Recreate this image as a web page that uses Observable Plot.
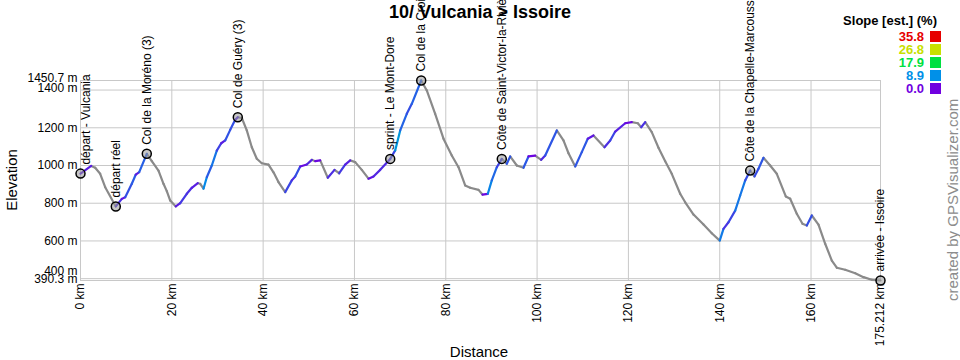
<!DOCTYPE html>
<html>
<head>
<meta charset="utf-8">
<script src="https://cdn.jsdelivr.net/npm/d3@7"></script>
<script src="https://cdn.jsdelivr.net/npm/@observablehq/plot@0.6"></script>
<style>
  body { margin: 0; background: #fff; font-family: "Liberation Sans", Arial, sans-serif; }
  #wrap { position: relative; width: 960px; height: 360px; overflow: hidden; background: #fff; }
  #chart { position: absolute; left: 0; top: 0; }
  .ov { position: absolute; white-space: nowrap; color: #000; }
  #title { left: 480px; top: 3px; transform: translateX(-50%); font-size: 18px; line-height: 18px; font-weight: bold; }
  #legTitle { right: 23px; top: 15px; font-size: 13px; line-height: 12px; font-weight: bold; }
  .legVal { right: 36px; font-size: 13px; line-height: 11px; font-weight: bold; text-align: right; }
  .legSw { position: absolute; left: 930px; width: 11px; height: 11px; }
  #credit { left: 945px; top: 301px; transform-origin: 0 0; transform: rotate(-90deg); font-size: 15px; line-height: 15px; color: #8c8c8c; }
  #ylab { left: 4px; top: 180px; transform-origin: 0 0; transform: rotate(-90deg) translateX(-50%); font-size: 15px; line-height: 15px; }
  #xlab { left: 479px; top: 344px; transform: translateX(-50%); font-size: 15px; line-height: 15px; }
</style>
</head>
<body>
<div id="wrap">
  <div id="chart"></div>
  <div id="title" class="ov"></div>
  <div id="legTitle" class="ov"></div>
  <div id="credit" class="ov"></div>
  <div id="ylab" class="ov"></div>
  <div id="xlab" class="ov"></div>
</div>
<script>
// ---- Data ----
const chartTitle = "10/ Vulcania > Issoire";
const xTitle = "Distance";
const yTitle = "Elevation";
const creditText = "created by GPSVisualizer.com";
const legendTitle = "Slope [est.] (%)";

const distKm = [0, 2.34, 3.22, 4.31, 5.41, 7.73, 9.05, 9.79, 11.24, 12.11,
  12.86, 14.52, 15.62, 17.08, 18.18, 18.90, 19.65, 20.87, 21.84, 23.28,
  24.38, 25.69, 26.22, 26.94, 27.66, 28.76, 29.85, 30.82, 31.69, 32.79,
  33.88, 34.45, 35.33, 36.42, 37.52, 38.61, 39.71, 41.17, 42.27, 43.36,
  44.83, 46.28, 47.02, 48.12, 49.56, 50.66, 51.40, 52.50, 54.16, 55.63,
  56.66, 57.97, 59.07, 60.16, 61.61, 63.08, 64.17, 65.64, 67.83, 68.92,
  70.02, 71.46, 72.56, 74.62, 75.84, 77.68, 79.50, 81.32, 82.79, 84.25,
  85.35, 87.17, 88.04, 89.21, 90.08, 91.18, 92.27, 93.37, 94.11, 95.56,
  97.02, 98.12, 99.58, 100.90, 101.78, 104.32, 105.78, 106.88, 108.35, 109.79,
  111.10, 112.35, 114.76, 116.01, 117.11, 119.30, 120.74, 122.06, 122.80, 123.68,
  125.12, 126.59, 128.06, 129.50, 131.34, 132.44, 134.26, 136.45, 138.26, 140.00,
  140.82, 141.92, 143.39, 144.48, 145.58, 146.67, 147.61, 148.49, 149.58, 151.05,
  152.50, 154.47, 155.43, 156.88, 158.13, 159.07, 160.17, 161.63, 163.10, 164.55,
  165.64, 167.48, 169.67, 171.49, 173.30, 175.212];

const elevM = [957, 998, 988, 956, 885, 783, 823, 832, 903, 952,
  965, 1062, 1023, 973, 903, 864, 814, 783, 800, 850,
  882, 906, 903, 877, 938, 1000, 1079, 1118, 1133, 1189,
  1242, 1256, 1252, 1186, 1097, 1036, 1012, 1005, 964, 912,
  859, 921, 942, 995, 1005, 1030, 1023, 1027, 935, 977,
  959, 1005, 1027, 1018, 977, 930, 942, 977, 1035, 1080,
  1186, 1274, 1327, 1450.7, 1398, 1274, 1142, 1053, 991, 894,
  882, 871, 846, 850, 921, 991, 1035, 1009, 1048, 1000,
  988, 1048, 1052, 1030, 1053, 1186, 1133, 1065, 995, 1071,
  1142, 1159, 1097, 1133, 1180, 1224, 1230, 1224, 1203, 1230,
  1177, 1094, 1023, 956, 850, 805, 740, 687, 641, 602,
  664, 699, 761, 841, 921, 973, 942, 983, 1041, 1000,
  956, 836, 824, 744, 691, 682, 735, 687, 585, 496,
  458, 447, 429, 408, 394, 390.3];

const wpName = ["départ - Vulcania", "départ réel", "Col de la Moréno (3)", "Col de Guéry (3)",
  "sprint - Le Mont-Dore", "Col de la Croix Saint-Robert (2)", "Côte de Saint-Victor-la-Rivière (3)",
  "Côte de la Chapelle-Marcousse (3)", "arrivée - Issoire"];
const wpKm = [0, 7.73, 14.52, 34.45, 67.83, 74.62, 92.27, 146.67, 175.212];
const wpElev = [957, 783, 1062, 1256, 1035, 1450.7, 1035, 973, 390.3];

const xTicks = [0, 20, 40, 60, 80, 100, 120, 140, 160, 175.212];
const xTickLabels = ["0 km", "20 km", "40 km", "60 km", "80 km", "100 km", "120 km", "140 km", "160 km", "175.212 km"];
const yTicks = [390.3, 400, 600, 800, 1000, 1200, 1400, 1450.7];
const yTickLabels = ["390.3 m", "400 m", "600 m", "800 m", "1000 m", "1200 m", "1400 m", "1450.7 m"];

const slopeStops = [35.8, 26.8, 17.9, 8.9, 0.0];
const slopeColors = ["#e60000", "#c8e000", "#00e040", "#0090e8", "#7000e0"];
const descentColor = "#8a8a8a";

// ---- Build tables ----
const segs = distKm.slice(1).map((d, i) => ({
  x1: distKm[i], y1: elevM[i], x2: d, y2: elevM[i + 1],
  slope: (elevM[i + 1] - elevM[i]) / ((d - distKm[i]) * 10)
}));
const wps = wpName.map((n, i) => ({name: n, km: wpKm[i], elev: wpElev[i]}));
const yLab = yTicks.map((v, i) => ({v, label: yTickLabels[i]}));
const yMin = yTicks[0], yMax = yTicks[yTicks.length - 1];
// labels crowded near the domain ends are nudged apart (as in the original)
const yLabMid = yLab.filter(d => d.v !== yMin && d.v !== yMax && d.v - yMin > 20 && yMax - d.v > 60);
const yLabTop = yLab.filter(d => yMax - d.v <= 60);
const yLabLow = yLab.filter(d => d.v !== yMin && d.v - yMin <= 20);
const yLabMin = yLab.filter(d => d.v === yMin);

const FONT = "'Liberation Sans', Arial, sans-serif";
const yText = (data, dy) => Plot.text(data, {y: "v", text: "label", frameAnchor: "left",
  textAnchor: "end", lineAnchor: "middle", dx: -3, dy, fontSize: 12, fill: "#000"});
const wpText = (data, dx) => Plot.text(data, {x: "km", y: "elev", text: "name", rotate: -90,
  textAnchor: "start", lineAnchor: "middle", dx, dy: -9, fontSize: 12, fill: "#000"});

const plot = Plot.plot({
  width: 960,
  height: 360,
  marginLeft: 80,
  marginRight: 80,
  marginTop: 80,
  marginBottom: 80,
  x: {domain: [0, 175.212], axis: null},
  y: {domain: [390.3, 1450.7], axis: null},
  color: {type: "linear", domain: slopeStops.slice().reverse(), range: slopeColors.slice().reverse(), interpolate: "rgb", clamp: true},
  style: {fontFamily: FONT, fontSize: "12px", background: "transparent", color: "#000"},
  marks: [
    Plot.ruleX(xTicks, {x: d => d, stroke: "#c8c8c8", strokeWidth: 1}),
    Plot.ruleY(yTicks, {y: d => d, stroke: "#c8c8c8", strokeWidth: 1}),
    Plot.text(xTicks, {x: d => d, text: (d, i) => xTickLabels[i], frameAnchor: "bottom", rotate: -90,
      textAnchor: "end", lineAnchor: "middle", dy: 3, fontSize: 12, fill: "#000"}),
    yText(yLabMid, 0),
    yText(yLabTop, -2),
    yText(yLabLow, -8),
    yText(yLabMin, -1),
    Plot.link(segs.filter(s => s.slope <= 0), {x1: "x1", y1: "y1", x2: "x2", y2: "y2",
      stroke: descentColor, strokeWidth: 2.2, strokeLinecap: "round"}),
    Plot.link(segs.filter(s => s.slope > 0), {x1: "x1", y1: "y1", x2: "x2", y2: "y2",
      stroke: d => d.slope, strokeWidth: 2.2, strokeLinecap: "round"}),
    Plot.dot(wps, {x: "km", y: "elev", r: 4.5, stroke: "#000", strokeWidth: 1.5, fill: "#999", fillOpacity: 0.55}),
    wpText(wps.filter(d => d.km > 0), 0),
    wpText(wps.filter(d => d.km === 0), 6)
  ]
});
document.getElementById("chart").appendChild(plot);

// ---- Overlays (title, legend, axis titles, credit) ----
document.getElementById("title").textContent = chartTitle;
document.getElementById("legTitle").textContent = legendTitle;
document.getElementById("credit").textContent = creditText;
document.getElementById("ylab").textContent = yTitle;
document.getElementById("xlab").textContent = xTitle;
const wrap = document.getElementById("wrap");
slopeStops.forEach((v, i) => {
  const t = document.createElement("div");
  t.className = "ov legVal";
  t.style.top = (31 + i * 13) + "px";
  t.style.color = slopeColors[i];
  t.textContent = v.toFixed(1);
  wrap.appendChild(t);
  const s = document.createElement("div");
  s.className = "legSw";
  s.style.top = (31 + i * 13) + "px";
  s.style.background = slopeColors[i];
  wrap.appendChild(s);
});
</script>
</body>
</html>
